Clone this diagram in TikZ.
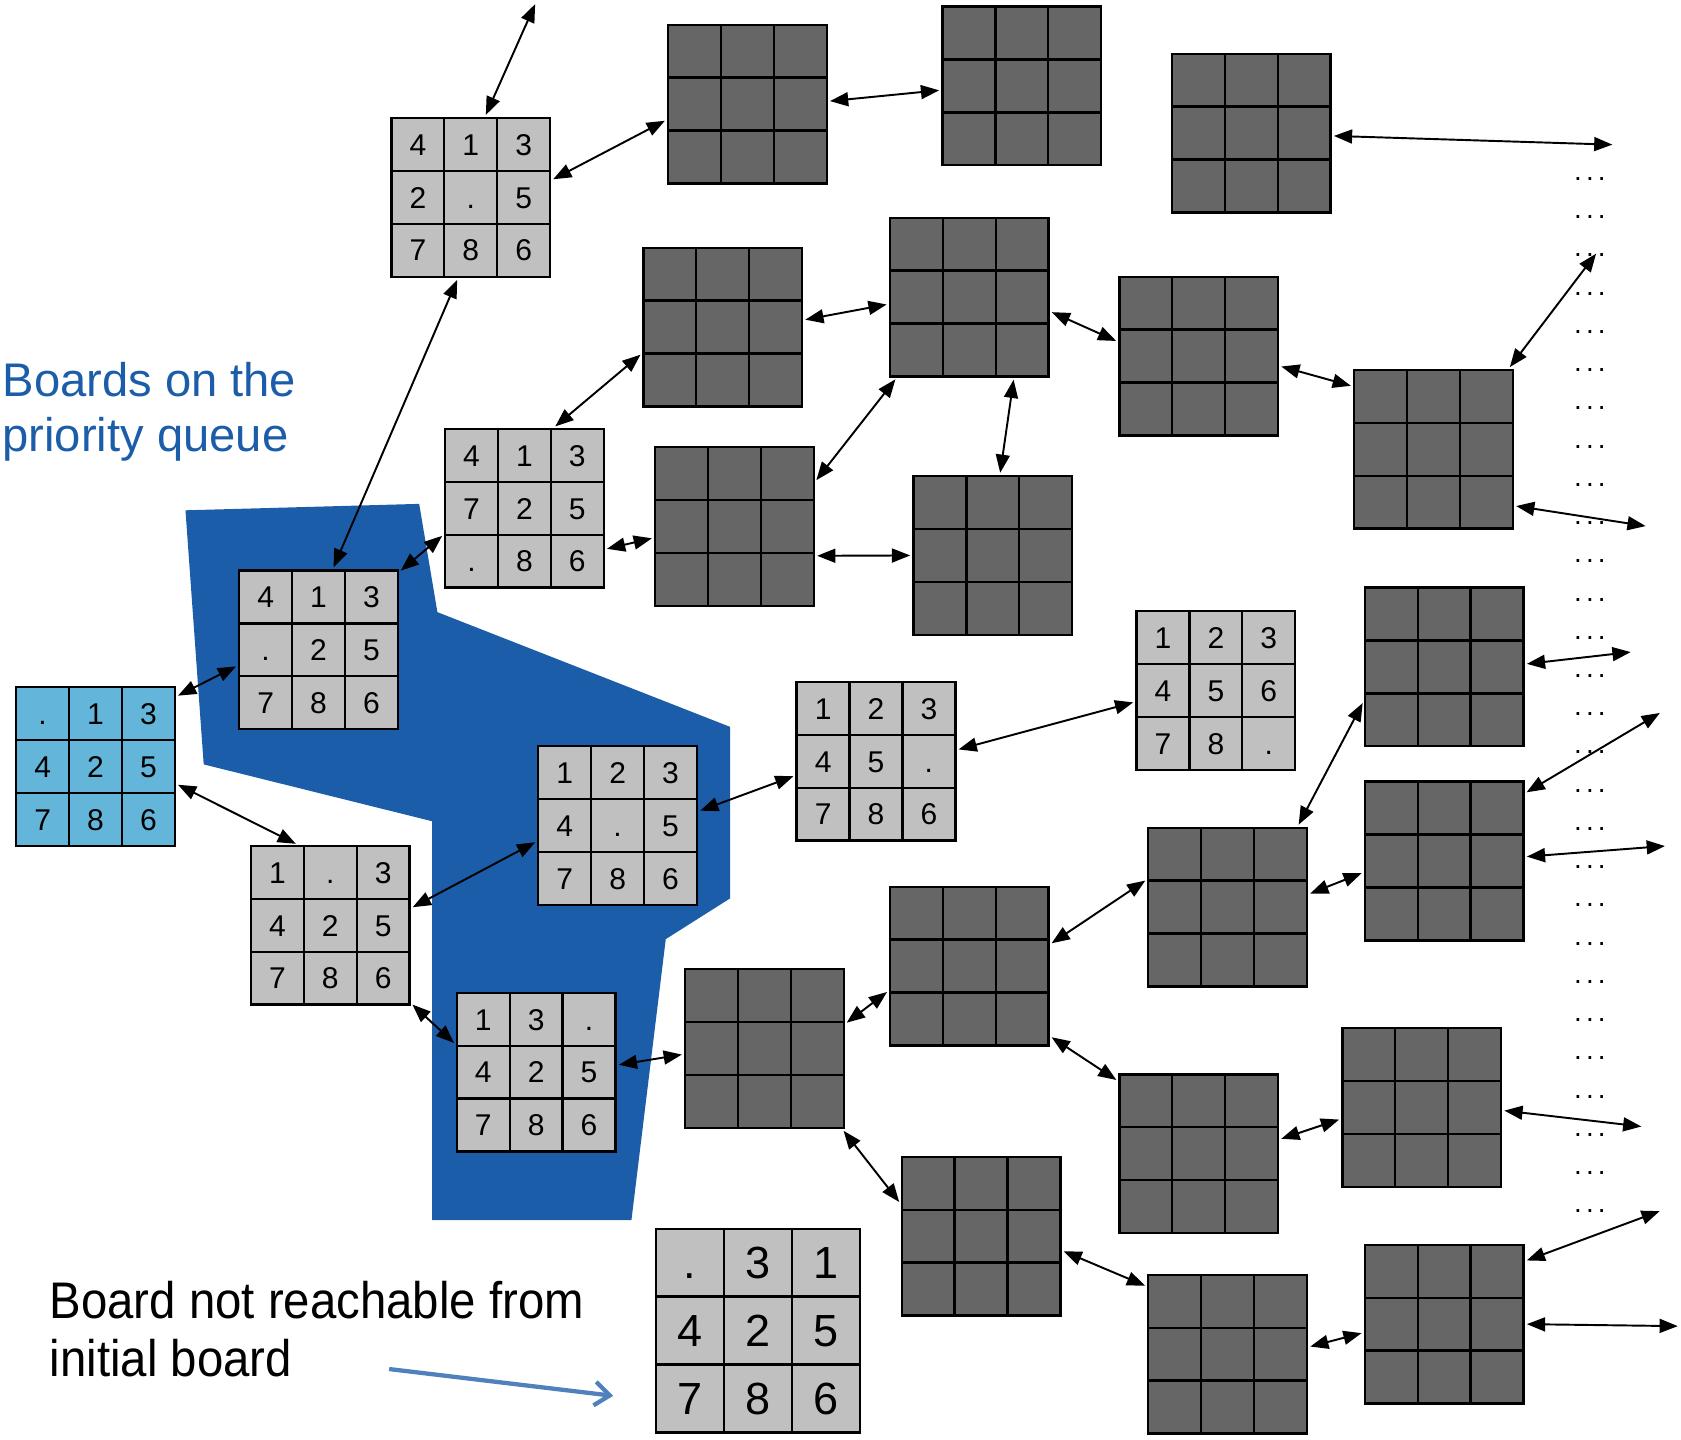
\documentclass[tikz,border=0pt]{standalone}
\usepackage{graphicx}
\usepackage{fontspec}
\setmainfont{Liberation Sans}
\usetikzlibrary{arrows.meta,matrix}

\definecolor{tilegray}{HTML}{C0C0C0}
\definecolor{tiledark}{HTML}{666666}
\definecolor{tileblue}{HTML}{63B5DA}
\definecolor{queueblue}{HTML}{1C5DAA}
\definecolor{noteblue}{HTML}{4F81BD}

\begin{document}
\begin{tikzpicture}[x=0.5pt,y=-0.5pt,
  every node/.style={font=\fontsize{14}{16}\selectfont},
  board/.style={matrix of nodes,nodes in empty cells,anchor=north west,inner sep=0pt,outer sep=0pt,
    column sep=-1.1pt,row sep=-1.1pt,
    nodes={draw,line width=1.1pt,fill=#1,minimum size=24.67pt,inner sep=0pt,outer sep=0pt,text height=10pt,text depth=0pt}},
  board/.default=tilegray,
  link/.style={{Triangle[length=8.5pt,width=6.5pt]}-{Triangle[length=8.5pt,width=6.5pt]},line width=0.9pt,shorten <=1pt,shorten >=1pt},
  dots/.style={font=\fontsize{13}{13}\selectfont,inner sep=0pt}]
\useasboundingbox (0,0) rectangle (1568,1343);

% boards on the priority queue
\fill[queueblue] (173,476) -- (391,470) -- (408,571) -- (681,678) -- (681,838) -- (621,876)
  -- (589,1138) -- (403,1138) -- (403,766) -- (190,713) -- cycle;
\node[text=queueblue,align=left,anchor=base west,inner sep=0pt,font=\fontsize{22}{25.5}\selectfont] (pqtext) at (2,421)
  {Boards on the\\priority queue};

% gray boards
\matrix[board=tileblue] (init) at (14,640) {. & 1 & 3\\ 4 & 2 & 5\\ 7 & 8 & 6\\};
\matrix[board] (pa) at (364,109) {4 & 1 & 3\\ 2 & . & 5\\ 7 & 8 & 6\\};
\matrix[board] (pb) at (414,399) {4 & 1 & 3\\ 7 & 2 & 5\\ . & 8 & 6\\};
\matrix[board] (qa) at (222,531) {4 & 1 & 3\\ . & 2 & 5\\ 7 & 8 & 6\\};
\matrix[board] (pc) at (233,788) {1 & . & 3\\ 4 & 2 & 5\\ 7 & 8 & 6\\};
\matrix[board] (qb) at (501,695) {1 & 2 & 3\\ 4 & . & 5\\ 7 & 8 & 6\\};
\matrix[board] (pd) at (742,635) {1 & 2 & 3\\ 4 & 5 & .\\ 7 & 8 & 6\\};
\matrix[board] (goal) at (1059,569) {1 & 2 & 3\\ 4 & 5 & 6\\ 7 & 8 & .\\};
\matrix[board] (qc) at (425,925) {1 & 3 & .\\ 4 & 2 & 5\\ 7 & 8 & 6\\};
\matrix[board,nodes={minimum size=31.67pt,text height=15pt,font=\fontsize{21}{21}\selectfont}] (odd) at (611,1145)
  {. & 3 & 1\\ 4 & 2 & 5\\ 7 & 8 & 6\\};

% dark boards
\foreach \n/\p in {g1/{622,22},g2/{878,5},g3/{1092,49},g4/{599,230},g5/{829,202},g6/{1043,257},
  g7/{1262,344},g8/{610,416},g9/{851,443},g10/{1272,547},g11/{1272,728},g12/{1070,771},
  g13/{829,826},g14/{638,903},g15/{1043,1001},g16/{1251,958},g17/{840,1078},g18/{1070,1188},g19/{1272,1160}}
  \matrix[board=tiledark,ampersand replacement=\&] (\n) at (\p) {\&\&\\\&\&\\\&\&\\};

% dots
\foreach \k in {0,...,27}
  \node[dots] (dots\k) at (1483,{167+35.66*\k}) {.\kern1.95pt.\kern1.95pt.};

\coordinate (t1) at (500,2);
\coordinate (t2) at (1506,135);
\coordinate (t3) at (1490,235);
\coordinate (t4) at (1537,491);
\coordinate (t5) at (1523,608);
\coordinate (t6) at (1550,664);
\coordinate (t7) at (1555,789);
\coordinate (t8) at (1533,1051);
\coordinate (t9) at (1550,1129);
\coordinate (t10) at (1567,1237);

% neighbours
\draw[link] (pa.80) -- (t1);
\draw[link] (pa.12) -- (g1.191);
\draw[link] (pa.261) -- (qa.80);
\draw[link] (g1.2) -- (g2.183);
\draw[link] (g3.358) -- (t2);
\draw[link] (pb.70) -- (g4.198);
\draw[link] (g4.5) -- (g5.185);
\draw[link] (g5.350) -- (g6.170);
\draw[link] (g5.299) -- (g9.85);
\draw[link] (g5.228) -- (g8.29);
\draw[link] (g6.353) -- (g7.142);
\draw[link] (g7.47) -- (t3);
\draw[link] (g7.325) -- (t4);
\draw[link] (pb.198) -- (qa.44);
\draw[link] (pb.333) -- (g8.188);
\draw[link] (g8.340) -- (g9.180);
\draw[link] (init.41) -- (qa.191);
\draw[link] (init.348) -- (pc.112);
\draw[link] (pc.12) -- (qb.191);
\draw[link] (pc.316) -- (qc.161);
\draw[link] (qb.10) -- (pd.190);
\draw[link] (pd.8) -- (goal.188);
\draw[link] (qc.5) -- (g14.184);
\draw[link] (g14.17) -- (g13.197);
\draw[link] (g14.314) -- (g17.158);
\draw[link] (g13.15) -- (g12.161);
\draw[link] (g13.319) -- (g15.138);
\draw[link] (g12.49) -- (g10.203);
\draw[link] (g12.9) -- (g11.188);
\draw[link] (g10.2) -- (t5);
\draw[link] (g11.40) -- (t6);
\draw[link] (g11.3) -- (t7);
\draw[link] (g15.10) -- (g16.188);
\draw[link] (g16.358) -- (t8);
\draw[link] (g17.350) -- (g18.140);
\draw[link] (g18.5) -- (g19.186);
\draw[link] (g19.38) -- (t9);
\draw[link] (g19.0) -- (t10);

% unreachable board
\node[align=left,anchor=base west,inner sep=0pt,font=\fontsize{24}{27}\selectfont] (oddtext) at (46,1284)
  {\scalebox{0.92}[1]{Board not reachable from}\\\scalebox{0.92}[1]{initial board}};
\coordinate (ns) at (363,1277);
\coordinate (ne) at (572,1302);
\draw[noteblue,line width=2pt,-{Straight Barb[length=7pt,width=11pt]}] (ns) -- (ne);
\end{tikzpicture}
\end{document}
